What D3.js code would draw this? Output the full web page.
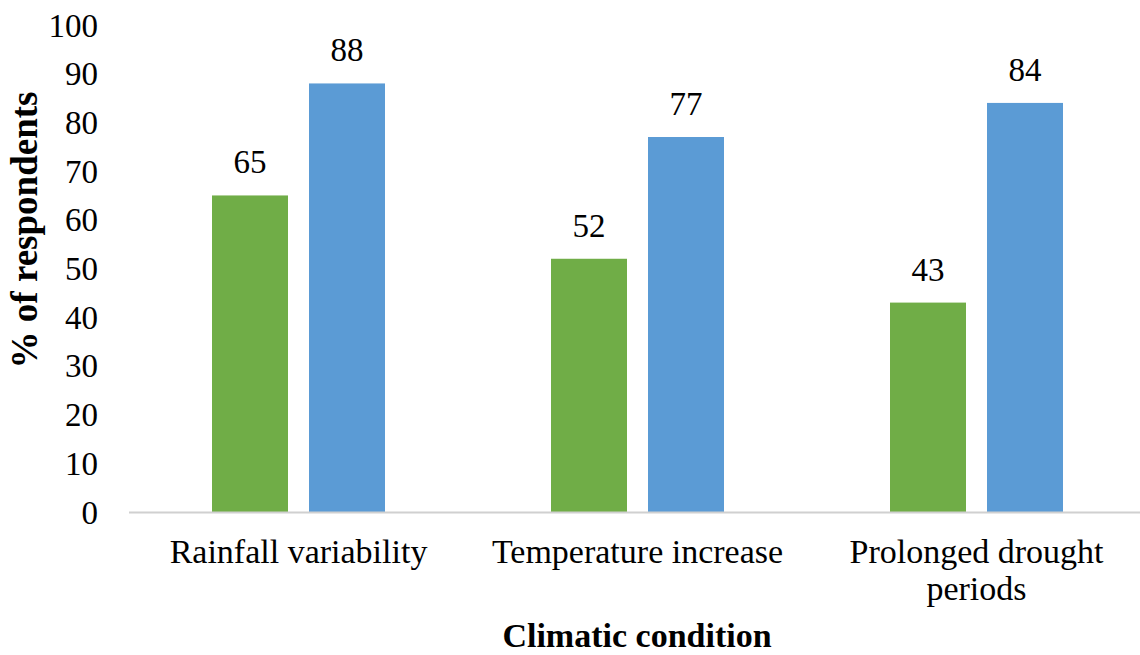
<!DOCTYPE html>
<html>
<head>
<meta charset="utf-8">
<script src="https://cdn.jsdelivr.net/npm/d3@7"></script>
<style>
  body { margin: 0; background: #fff; }
  svg { display: block; }
</style>
</head>
<body>
<svg id="chart" width="1140" height="655"></svg>
<script>
(function() {
    'use strict';

    // data
    var categories = [["Rainfall variability"], ["Temperature increase"], ["Prolonged drought", "periods"]];
    var seriesA = [65, 52, 43];   // green
    var seriesB = [88, 77, 84];   // blue
    var yTicks = [0, 10, 20, 30, 40, 50, 60, 70, 80, 90, 100];

    var width = 1140,
        left = 129,
        right = 1146,
        top = 25,
        bottom = 512;

    var serif = "Times New Roman, Liberation Serif, DejaVu Serif, serif";

    var svg = d3.select("#chart")
        .style("font-family", serif);

    var x = d3.scaleBand()
        .domain(d3.range(categories.length))
        .range([left, right]);

    var y = d3.scaleLinear()
        .domain([0, 100])
        .range([bottom, top]);

    var barW = 76, barGap = 21;

    var rows = categories.map(function(c, i) {
        return { i: i, a: seriesA[i], b: seriesB[i] };
    });

    // y tick labels
    svg.append("g")
        .selectAll("text")
        .data(yTicks)
        .enter().append("text")
        .attr("x", 98)
        .attr("y", function(d) { return y(d); })
        .attr("dy", "0.35em")
        .attr("text-anchor", "end")
        .style("font-size", "33px")
        .text(function(d) { return d; });

    // bars
    var g = svg.append("g")
        .selectAll("g")
        .data(rows)
        .enter().append("g")
        .attr("transform", function(d) {
            return "translate(" + (x(d.i) + x.bandwidth() / 2) + ",0)";
        });

    g.append("rect")
        .attr("x", -barGap / 2 - barW)
        .attr("y", function(d) { return y(d.a); })
        .attr("width", barW)
        .attr("height", function(d) { return y(0) - y(d.a); })
        .attr("fill", "#70AD47");

    g.append("rect")
        .attr("x", barGap / 2)
        .attr("y", function(d) { return y(d.b); })
        .attr("width", barW)
        .attr("height", function(d) { return y(0) - y(d.b); })
        .attr("fill", "#5B9BD5");

    // value labels
    g.append("text")
        .attr("x", -barGap / 2 - barW / 2)
        .attr("y", function(d) { return y(d.a) - 22; })
        .attr("text-anchor", "middle")
        .style("font-size", "33px")
        .text(function(d) { return d.a; });

    g.append("text")
        .attr("x", barGap / 2 + barW / 2)
        .attr("y", function(d) { return y(d.b) - 22; })
        .attr("text-anchor", "middle")
        .style("font-size", "33px")
        .text(function(d) { return d.b; });

    // x axis line
    svg.append("line")
        .attr("x1", left)
        .attr("x2", width)
        .attr("y1", y(0) + 0.5)
        .attr("y2", y(0) + 0.5)
        .attr("stroke", "#D0D0D0")
        .attr("stroke-width", 2);

    // category labels
    var cat = g.append("text")
        .attr("text-anchor", "middle")
        .style("font-size", "34px");
    cat.selectAll("tspan")
        .data(function(d) { return categories[d.i]; })
        .enter().append("tspan")
        .attr("x", 0)
        .attr("y", function(d, j) { return 563 + j * 37; })
        .text(function(d) { return d; });

    // axis titles
    svg.append("text")
        .attr("x", 637)
        .attr("y", 647)
        .attr("text-anchor", "middle")
        .style("font-size", "34px")
        .style("font-weight", "bold")
        .text("Climatic condition");

    svg.append("text")
        .attr("transform", "translate(37,230) rotate(-90)")
        .attr("text-anchor", "middle")
        .style("font-size", "37px")
        .style("font-weight", "bold")
        .text("% of respondents");
})();
</script>
</body>
</html>
